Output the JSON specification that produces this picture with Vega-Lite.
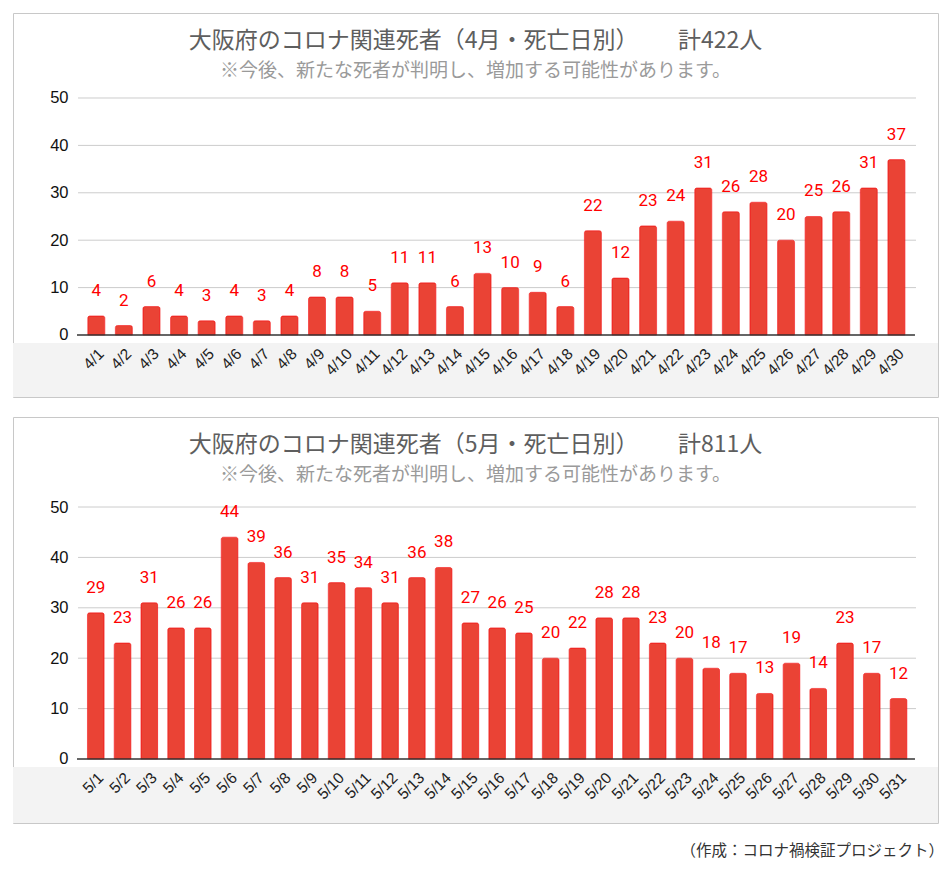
{
  "$schema": "https://vega.github.io/schema/vega-lite/v6.json",
  "background": "white",
  "padding": {"left": 12, "top": 12, "right": 0, "bottom": 0},
  "autosize": {"type": "pad"},
  "spacing": 18,
  "title": {"text": "（作成：コロナ禍検証プロジェクト）", "orient": "bottom", "anchor": "end", "frame": "group", "fontSize": 15.5, "fontWeight": "normal", "font": "Noto Sans CJK JP", "color": "#333333", "offset": 20, "dx": 6},
  "datasets": {
    "apr": [
      {"d": "4/1", "n": 4}, {"d": "4/2", "n": 2}, {"d": "4/3", "n": 6}, {"d": "4/4", "n": 4}, {"d": "4/5", "n": 3},
      {"d": "4/6", "n": 4}, {"d": "4/7", "n": 3}, {"d": "4/8", "n": 4}, {"d": "4/9", "n": 8}, {"d": "4/10", "n": 8},
      {"d": "4/11", "n": 5}, {"d": "4/12", "n": 11}, {"d": "4/13", "n": 11}, {"d": "4/14", "n": 6}, {"d": "4/15", "n": 13},
      {"d": "4/16", "n": 10}, {"d": "4/17", "n": 9}, {"d": "4/18", "n": 6}, {"d": "4/19", "n": 22}, {"d": "4/20", "n": 12},
      {"d": "4/21", "n": 23}, {"d": "4/22", "n": 24}, {"d": "4/23", "n": 31}, {"d": "4/24", "n": 26}, {"d": "4/25", "n": 28},
      {"d": "4/26", "n": 20}, {"d": "4/27", "n": 25}, {"d": "4/28", "n": 26}, {"d": "4/29", "n": 31}, {"d": "4/30", "n": 37}
    ],
    "may": [
      {"d": "5/1", "n": 29}, {"d": "5/2", "n": 23}, {"d": "5/3", "n": 31}, {"d": "5/4", "n": 26}, {"d": "5/5", "n": 26},
      {"d": "5/6", "n": 44}, {"d": "5/7", "n": 39}, {"d": "5/8", "n": 36}, {"d": "5/9", "n": 31}, {"d": "5/10", "n": 35},
      {"d": "5/11", "n": 34}, {"d": "5/12", "n": 31}, {"d": "5/13", "n": 36}, {"d": "5/14", "n": 38}, {"d": "5/15", "n": 27},
      {"d": "5/16", "n": 26}, {"d": "5/17", "n": 25}, {"d": "5/18", "n": 20}, {"d": "5/19", "n": 22}, {"d": "5/20", "n": 28},
      {"d": "5/21", "n": 28}, {"d": "5/22", "n": 23}, {"d": "5/23", "n": 20}, {"d": "5/24", "n": 18}, {"d": "5/25", "n": 17},
      {"d": "5/26", "n": 13}, {"d": "5/27", "n": 19}, {"d": "5/28", "n": 14}, {"d": "5/29", "n": 23}, {"d": "5/30", "n": 17},
      {"d": "5/31", "n": 12}
    ],
    "grid": [{"v": 10}, {"v": 20}, {"v": 30}, {"v": 40}, {"v": 50}],
    "one": [{"k": 1}]
  },
  "vconcat": [
    {
      "width": 925,
      "height": 384,
      "title": {"text": "大阪府のコロナ関連死者（4月・死亡日別）　　 計422人", "subtitle": "※今後、新たな死者が判明し、増加する可能性があります。", "anchor": "middle", "frame": "group", "offset": -68},
      "resolve": {"scale": {"x": "independent"}, "axis": {"y": "independent"}},
      "layer": [
        {
          "data": {"name": "one"},
          "mark": {"type": "rect", "color": "#f3f3f3"},
          "encoding": {
            "x": {"datum": 0, "type": "quantitative", "scale": {"domain": [0, 1], "nice": false, "zero": false}, "axis": null},
            "x2": {"datum": 1},
            "y": {"datum": -1.69, "type": "quantitative", "scale": {"domain": [-13.08, 67.93], "nice": false, "zero": false}, "axis": null},
            "y2": {"datum": -13.08}
          }
        },
        {
          "data": {"name": "grid"},
          "mark": {"type": "rule", "color": "#cccccc", "strokeWidth": 1},
          "encoding": {
            "x": {"datum": 0.0703, "type": "quantitative", "scale": {"domain": [0, 1], "nice": false, "zero": false}, "axis": null},
            "x2": {"datum": 0.9762},
            "y": {"field": "v", "type": "quantitative", "scale": {"domain": [-13.08, 67.93], "nice": false, "zero": false}, "axis": null}
          }
        },
        {
          "data": {"name": "apr"},
          "encoding": {
            "x": {"field": "d", "type": "nominal", "sort": null, "title": null,
              "scale": {"range": [69.5, 897.2], "paddingInner": 0.384, "paddingOuter": 0.192, "round": false},
              "axis": {"orient": "bottom", "offset": -62, "zindex": 2, "labelAngle": -45, "labelAlign": "right", "labelBaseline": "top", "labelPadding": 11, "ticks": false, "domain": false, "labelFontSize": 15.5, "labelFont": "Liberation Sans", "labelColor": "#222222", "labelOverlap": false}},
            "y": {"field": "n", "type": "quantitative", "title": null,
              "scale": {"domain": [-13.08, 67.93], "nice": false, "zero": false},
              "axis": {"values": [0, 10, 20, 30, 40, 50], "offset": -65, "zindex": 2, "labelPadding": 10, "ticks": false, "domain": false, "grid": false, "labelFontSize": 16.5, "labelFont": "Liberation Sans", "labelColor": "#111111"}}
          },
          "layer": [
            {"mark": {"type": "bar", "color": "#ea4335", "stroke": "#f21d1d", "strokeWidth": 0.7, "cornerRadiusTopLeft": 2, "cornerRadiusTopRight": 2}},
            {"mark": {"type": "text", "baseline": "alphabetic", "dy": -20, "fontSize": 17, "font": "Roboto", "color": "#ff0000"}, "encoding": {"text": {"field": "n", "type": "quantitative"}}}
          ]
        },
        {
          "data": {"name": "one"},
          "mark": {"type": "rule", "color": "#333333", "strokeWidth": 1.5},
          "encoding": {
            "x": {"datum": 0.0692, "type": "quantitative", "scale": {"domain": [0, 1], "nice": false, "zero": false}, "axis": null},
            "x2": {"datum": 0.9751},
            "y": {"datum": 0, "type": "quantitative", "scale": {"domain": [-13.08, 67.93], "nice": false, "zero": false}, "axis": null}
          }
        }
      ]
    },
    {
      "width": 925,
      "height": 406,
      "title": {"text": "大阪府のコロナ関連死者（5月・死亡日別）　　 計811人", "subtitle": "※今後、新たな死者が判明し、増加する可能性があります。", "anchor": "middle", "frame": "group", "offset": -68},
      "resolve": {"scale": {"x": "independent"}, "axis": {"y": "independent"}},
      "layer": [
        {
          "data": {"name": "one"},
          "mark": {"type": "rect", "color": "#f3f3f3"},
          "encoding": {
            "x": {"datum": 0, "type": "quantitative", "scale": {"domain": [0, 1], "nice": false, "zero": false}, "axis": null},
            "x2": {"datum": 1},
            "y": {"datum": -1.59, "type": "quantitative", "scale": {"domain": [-12.7, 67.86], "nice": false, "zero": false}, "axis": null},
            "y2": {"datum": -12.7}
          }
        },
        {
          "data": {"name": "grid"},
          "mark": {"type": "rule", "color": "#cccccc", "strokeWidth": 1},
          "encoding": {
            "x": {"datum": 0.0703, "type": "quantitative", "scale": {"domain": [0, 1], "nice": false, "zero": false}, "axis": null},
            "x2": {"datum": 0.9762},
            "y": {"field": "v", "type": "quantitative", "scale": {"domain": [-12.7, 67.86], "nice": false, "zero": false}, "axis": null}
          }
        },
        {
          "data": {"name": "may"},
          "encoding": {
            "x": {"field": "d", "type": "nominal", "sort": null, "title": null,
              "scale": {"range": [69.4, 898.9], "paddingInner": 0.38, "paddingOuter": 0.19, "round": false},
              "axis": {"orient": "bottom", "offset": -64, "zindex": 2, "labelAngle": -45, "labelAlign": "right", "labelBaseline": "top", "labelPadding": 11, "ticks": false, "domain": false, "labelFontSize": 15.5, "labelFont": "Liberation Sans", "labelColor": "#222222", "labelOverlap": false}},
            "y": {"field": "n", "type": "quantitative", "title": null,
              "scale": {"domain": [-12.7, 67.86], "nice": false, "zero": false},
              "axis": {"values": [0, 10, 20, 30, 40, 50], "offset": -65, "zindex": 2, "labelPadding": 10, "ticks": false, "domain": false, "grid": false, "labelFontSize": 16.5, "labelFont": "Liberation Sans", "labelColor": "#111111"}}
          },
          "layer": [
            {"mark": {"type": "bar", "color": "#ea4335", "stroke": "#f21d1d", "strokeWidth": 0.7, "cornerRadiusTopLeft": 2, "cornerRadiusTopRight": 2}},
            {"mark": {"type": "text", "baseline": "alphabetic", "dy": -20, "fontSize": 17, "font": "Roboto", "color": "#ff0000"}, "encoding": {"text": {"field": "n", "type": "quantitative"}}}
          ]
        },
        {
          "data": {"name": "one"},
          "mark": {"type": "rule", "color": "#333333", "strokeWidth": 1.5},
          "encoding": {
            "x": {"datum": 0.0692, "type": "quantitative", "scale": {"domain": [0, 1], "nice": false, "zero": false}, "axis": null},
            "x2": {"datum": 0.9751},
            "y": {"datum": 0, "type": "quantitative", "scale": {"domain": [-12.7, 67.86], "nice": false, "zero": false}, "axis": null}
          }
        }
      ]
    }
  ],
  "config": {
    "view": {"stroke": "#c8c8c8", "strokeWidth": 1, "fill": "white"},
    "title": {"font": "Noto Sans CJK JP", "fontSize": 23, "fontWeight": "normal", "color": "#5e5e5e", "subtitleFont": "Noto Sans CJK JP", "subtitleFontSize": 19, "subtitleColor": "#9a9a9a", "subtitlePadding": 9},
    "axis": {"labelFont": "Liberation Sans"},
    "text": {"font": "Roboto"}
  }
}
